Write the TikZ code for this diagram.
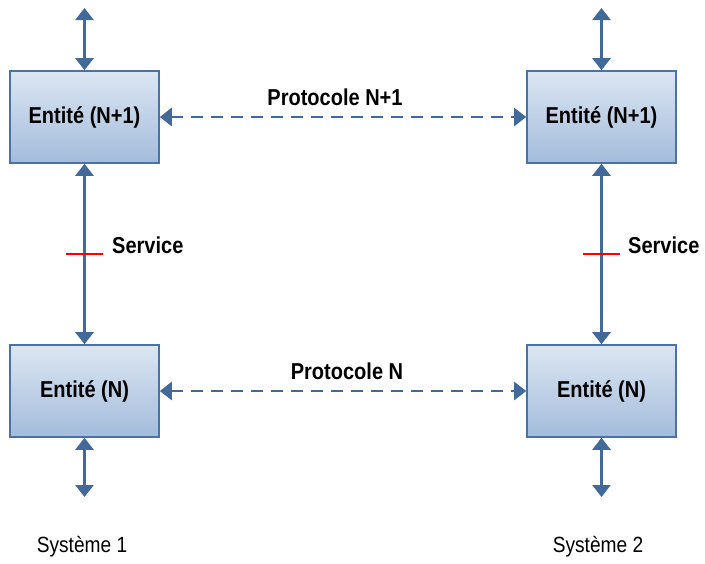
\documentclass[tikz,border=0pt]{standalone}
\usepackage{fontspec}
\usepackage{graphicx}
\setmainfont{Liberation Sans}
\usetikzlibrary{arrows.meta}
\definecolor{arrowblue}{HTML}{41699A}
\definecolor{boxborder}{HTML}{4A72A6}
\definecolor{boxtop}{HTML}{DCE6F2}
\definecolor{boxbot}{HTML}{A3BCDC}
\definecolor{tickred}{HTML}{FF0000}
\newcommand{\cnd}[1]{\scalebox{0.87}[1]{#1}}
\tikzset{
  entity/.style={draw=boxborder, line width=1.6pt, top color=boxtop, bottom color=boxbot,
    minimum width=149pt, minimum height=92pt, inner sep=0pt,
    font=\fontsize{23}{25}\selectfont\bfseries},
  link/.style={draw=arrowblue, line width=2.6pt, {Triangle[width=18pt,length=12pt]}-{Triangle[width=18pt,length=12pt]}},
  dlink/.style={link, dash pattern=on 12pt off 8pt},
  lbl/.style={font=\fontsize{23}{25}\selectfont\bfseries, inner sep=0pt},
  sys/.style={font=\fontsize{22}{24}\selectfont, inner sep=0pt}
}
\begin{document}
\begin{tikzpicture}[x=1pt,y=-1pt]
\useasboundingbox (0,0) rectangle (705,563);
\node[entity] (a1) at (84.5,117) {\cnd{Entité (N+1)}};
\node[entity] (b1) at (601.5,117) {\cnd{Entité (N+1)}};
\node[entity] (a0) at (84.5,391) {\cnd{Entité (N)}};
\node[entity] (b0) at (601.5,391) {\cnd{Entité (N)}};
\coordinate (a1t) at (84.5,8);
\coordinate (b1t) at (601.5,8);
\coordinate (a0b) at (84.5,497);
\coordinate (b0b) at (601.5,497);
\draw[link] (a1t) -- (a1.north);
\draw[link] (b1t) -- (b1.north);
\draw[link] (a0b) -- (a0.south);
\draw[link] (b0b) -- (b0.south);
\draw[link] (a1.south) -- (a0.north);
\draw[link] (b1.south) -- (b0.north);
\draw[dlink] (a1.east) -- (b1.west);
\draw[dlink] (a0.east) -- (b0.west);
\coordinate (ta1) at (66,254); \coordinate (ta2) at (103,254);
\coordinate (tb1) at (583,254); \coordinate (tb2) at (620,254);
\draw[tickred, line width=1.3pt] (ta1) -- (ta2);
\draw[tickred, line width=1.3pt] (tb1) -- (tb2);
\node[lbl, anchor=west] (sa) at (112,245) {\cnd{Service}};
\node[lbl, anchor=west] (sb) at (628,245) {\cnd{Service}};
\node[lbl] (p1) at (335,97) {\cnd{Protocole N+1}};
\node[lbl] (p0) at (347,371) {\cnd{Protocole N}};
\node[sys] (s1) at (82,547) {\cnd{Système 1}};
\node[sys] (s2) at (598,547) {\cnd{Système 2}};
\end{tikzpicture}
\end{document}
